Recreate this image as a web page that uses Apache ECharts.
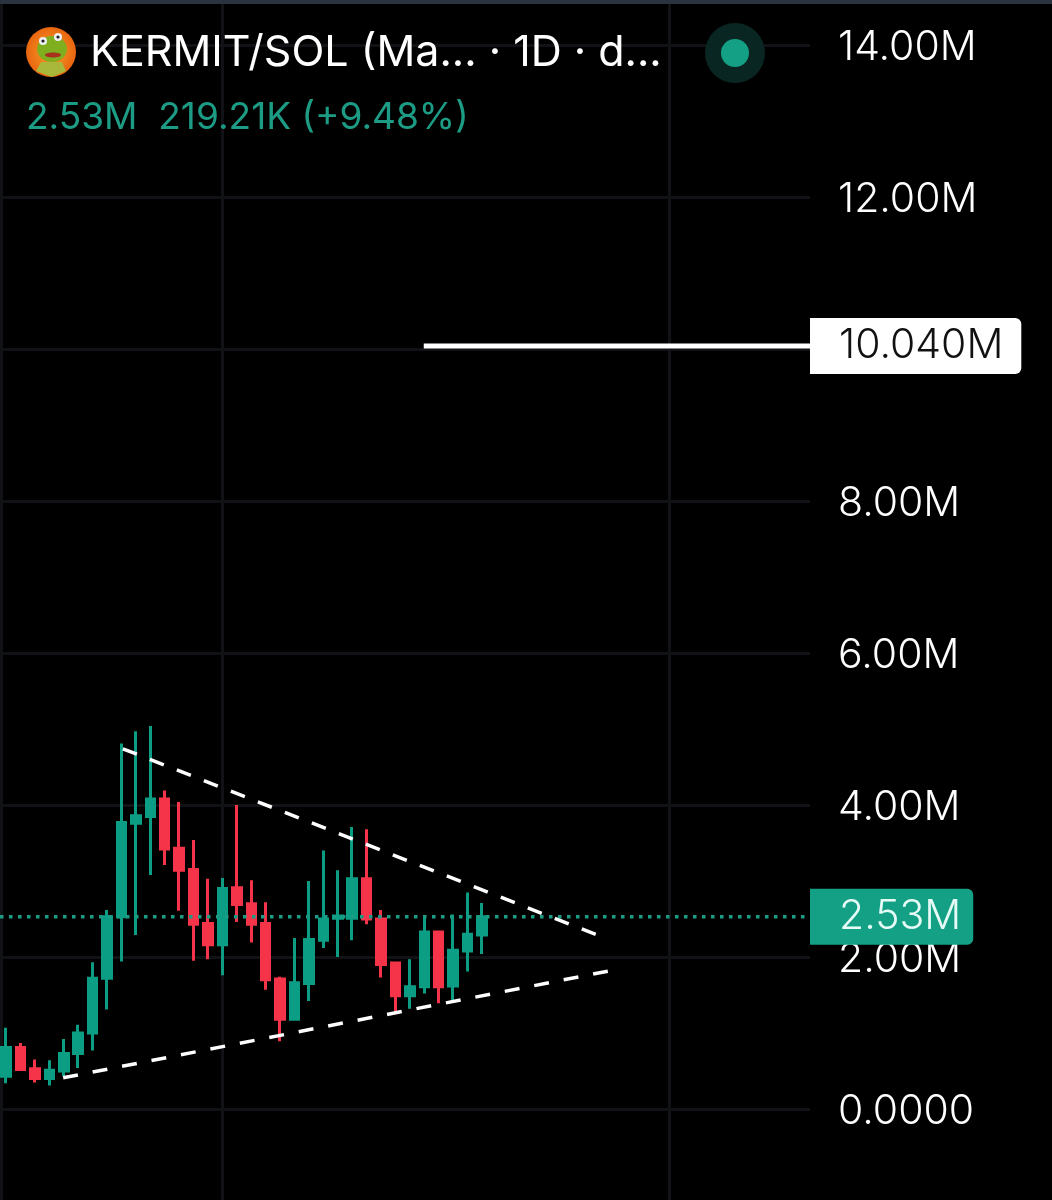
<!DOCTYPE html>
<html>
<head>
<meta charset="utf-8">
<style>
html,body{margin:0;padding:0;background:#000;}
#main{width:1052px;height:1200px;}
</style>
<script src="https://cdn.jsdelivr.net/npm/echarts@6/dist/echarts.min.js"></script>
</head>
<body>
<div id="main"></div>
<script>
// bar number on the x axis, values in millions
var opens  = [0.43,0.81,0.53,0.40,0.50,0.73,1.00,1.72,2.53,3.76,3.85,4.08,3.43,3.15,2.44,2.16,2.91,2.70,2.44,1.71,1.18,1.65,2.22,2.51,2.51,3.03,2.50,1.92,1.49,1.61,2.33,1.62,2.08,2.29];
var closes = [0.81,0.52,0.40,0.51,0.73,1.00,1.72,2.53,3.77,3.86,4.08,3.42,3.14,2.43,2.16,2.90,2.69,2.43,1.70,1.18,1.66,2.23,2.50,2.54,3.03,2.50,1.90,1.49,1.61,2.33,1.61,2.09,2.30,2.53];
var lows   = [0.34,0.50,0.35,0.31,0.43,0.54,0.77,1.31,1.94,2.29,3.08,3.21,2.61,1.95,1.97,1.76,2.46,2.19,1.57,0.89,1.18,1.42,2.12,2.00,2.22,2.43,1.73,1.26,1.32,1.52,1.39,1.43,1.81,2.04];
var highs  = [1.07,0.87,0.65,0.64,0.92,1.11,1.93,2.62,4.81,4.97,5.04,4.19,4.04,3.54,3.03,3.04,4.00,3.01,2.72,1.74,2.25,3.00,3.40,3.14,3.71,3.68,2.62,1.93,1.97,2.53,2.35,2.56,2.85,2.71];

var upperTrendX = [8.1, 40.97];
var upperTrendY = [4.74, 2.29];
var lowerTrendX = [3.96, 41.9];
var lowerTrendY = [0.41, 1.82];
var targetX = [28.96, 55.74];
var targetY = [10.04, 10.04];
var lastX = [-0.42, 55.74];
var lastY = [2.53, 2.53];
var monthLines = [-0.35, 15, 46];

var yTicks = {'0':'0.0000','2':'2.00M','4':'4.00M','6':'6.00M','8':'8.00M','10':'10.00M','12':'12.00M','14':'14.00M'};

var GREEN = '#0c9e85', RED = '#f5344a', GRIDC = '#101216', FONT = 'Inter';

var candles = opens.map(function(o,i){ return [i,o,closes[i],lows[i],highs[i]]; });
function pairs(xs,ys){ return xs.map(function(x,i){ return [x,ys[i]]; }); }

var myChart = echarts.init(document.getElementById('main'));
myChart.setOption({
    backgroundColor:'#000',
    animation:false,
    title:[{
        text:'KERMIT/SOL (Ma... · 1D · d...',
        left:90, top:32, padding:0,
        textStyle:{color:'#fff',fontFamily:FONT,fontSize:43,fontWeight:'normal'}
    },{
        text:'2.53M  219.21K (+9.48%)',
        left:26, top:99, padding:0,
        textStyle:{color:'#1d9c85',fontFamily:FONT,fontSize:37,fontWeight:'normal'}
    }],
    grid:{left:0,right:242,top:-107,height:1368,outerBoundsMode:'none'},
    xAxis:{
        type:'value',min:-0.42,max:55.74,
        axisLine:{show:false},axisTick:{show:false},axisLabel:{show:false},splitLine:{show:false}
    },
    yAxis:{
        type:'value',position:'right',min:-2,max:16,interval:2,
        axisLine:{show:false},axisTick:{show:false},
        splitLine:{lineStyle:{color:GRIDC,width:3}},
        axisLabel:{
            margin:28,
            rich:{t:{color:'#fff',fontFamily:FONT,fontSize:41,fontWeight:300,padding:[5,0,0,0]}},
            formatter:function(v){ return yTicks[v] === undefined ? '' : '{t|'+yTicks[v]+'}'; }
        }
    },
    series:[{
        name:'months',type:'line',symbol:'none',data:[],z:1,silent:true,
        markLine:{
            silent:true,symbol:'none',z:1,label:{show:false},
            lineStyle:{color:GRIDC,width:3,type:'solid'},
            data:monthLines.map(function(v){ return {xAxis:v}; })
        }
    },{
        name:'KERMIT/SOL',type:'candlestick',barWidth:9,z:3,
        encode:{x:0,y:[1,2,3,4]},
        itemStyle:{color:GREEN,color0:RED,borderColor:GREEN,borderColor0:RED,borderWidth:3},
        data:candles
    },{
        name:'last',type:'line',symbol:'none',z:4,silent:true,
        lineStyle:{color:'#1d9c85',width:3.5,type:[3.5,5.5]},
        data:pairs(lastX,lastY),
        endLabel:{
            show:true,formatter:'2.53M',distance:0,color:'#e6fbf6',fontFamily:FONT,fontSize:41,fontWeight:300,
            backgroundColor:'#14a085',borderRadius:[0,6,6,0],
            padding:[12,12,8,29],lineHeight:36
        }
    },{
        name:'target',type:'line',symbol:'none',z:4,silent:true,
        lineStyle:{color:'#fff',width:5},
        data:pairs(targetX,targetY),
        endLabel:{
            show:true,formatter:'10.040M',distance:0,color:'#111',fontFamily:FONT,fontSize:41,fontWeight:300,
            backgroundColor:'#fff',borderRadius:[0,6,6,0],
            padding:[12,18,8,29],lineHeight:36
        }
    },{
        name:'upper',type:'line',symbol:'none',z:5,silent:true,
        lineStyle:{color:'#fff',width:3.5,type:[15,14]},
        data:pairs(upperTrendX,upperTrendY)
    },{
        name:'lower',type:'line',symbol:'none',z:5,silent:true,
        lineStyle:{color:'#fff',width:3.5,type:[15,15]},
        data:pairs(lowerTrendX,lowerTrendY)
    }],
    graphic:[
        {type:'rect',left:0,top:0,shape:{width:1052,height:4},style:{fill:'#2a3340'},z:10},
        {type:'circle',shape:{cx:51,cy:52,r:25},z:10,
            style:{fill:new echarts.graphic.RadialGradient(0.5,0.5,0.5,[{offset:0,color:'#f9a12c'},{offset:1,color:'#e8650f'}])}},
        {type:'polygon',shape:{points:[[36,71],[41,62],[62,62],[66,71],[52,77]]},style:{fill:'#a9b83a'},z:11},
        {type:'ellipse',shape:{cx:52,cy:49,rx:15,ry:13},style:{fill:'#7fae1e'},z:11},
        {type:'circle',shape:{cx:43,cy:41,r:4},style:{fill:'#eef0f5'},z:12},
        {type:'circle',shape:{cx:58,cy:37,r:4},style:{fill:'#eef0f5'},z:12},
        {type:'circle',shape:{cx:43,cy:41,r:1.6},style:{fill:'#222'},z:13},
        {type:'circle',shape:{cx:58,cy:37,r:1.6},style:{fill:'#222'},z:13},
        {type:'ellipse',shape:{cx:53,cy:55,rx:8,ry:2.5},style:{fill:'#a8301f'},z:12},
        {type:'circle',shape:{cx:735,cy:53,r:30},style:{fill:'#0a2623'},z:10},
        {type:'circle',shape:{cx:735,cy:53,r:14},style:{fill:'#14a085'},z:11}
    ]
});
</script>
</body>
</html>
